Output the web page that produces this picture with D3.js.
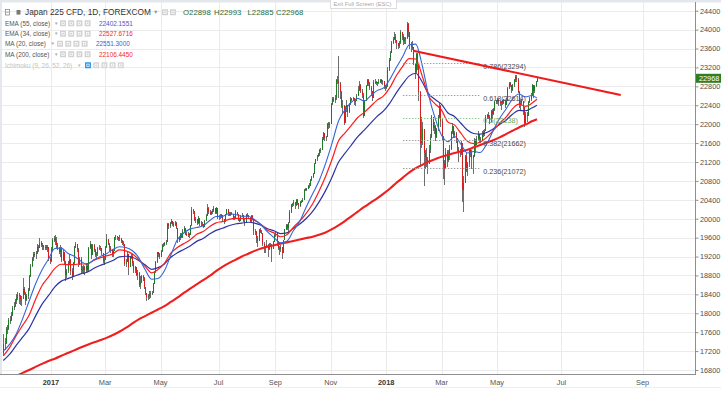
<!DOCTYPE html>
<html><head><meta charset="utf-8">
<script src="https://cdn.jsdelivr.net/npm/d3@7"></script>
<style>
body{margin:0;background:#fff;}
svg{display:block;font-family:"Liberation Sans",Arial,sans-serif;}
</style>
</head><body>
<svg id="chart" width="721" height="393"></svg>
<script>
// ---------------- DATA ----------------
const symbolTitle = "Japan 225 CFD, 1D, FOREXCOM";
const startDate = "2016-11-10";
const endDate = "2018-06-13";
const firstOpen = 17150;

const closes = [
17344,17374,
17672,17668,17862,17862,17967,
18106,18162,18250,18333,18381,
18356,18307,18308,18513,18426,
18274,18360,18496,18765,18996,
19155,19250,19253,19273,19401,
19391,19494,19444,19427,19400,
19396,19403,19401,19145,19114,
19350,19550,19594,19520,19454,
19380,19301,19364,19134,19287,
19095,18813,18894,19072,19137,
18891,18787,19057,19402,19467,
19368,19041,19148,18914,18918,
18976,18910,19007,18907,19378,
19459,19238,19437,19347,19234,
19251,19381,19379,19371,19283,
19107,19118,19393,19564,19469,
19379,19344,19254,19318,19604,
19633,19609,19577,19590,19521,
19480,19455,19041,19085,19262,
18985,19202,19217,19063,18909,
18983,18810,18861,18597,18665,
18797,18747,18552,18426,18335,
18355,18418,18432,18430,18620,
18875,19079,19289,19251,19196,
19310,19445,19450,19480,19500,
19895,19843,19900,19961,19883,
19869,19919,19814,19553,19590,
19678,19613,19742,19813,19686,
19682,19677,19650,19860,20177,
20170,19979,19984,19909,20013,
19908,19898,19883,19831,19943,
20067,20230,20138,20110,20132,
20153,20225,20130,20220,20033,
20055,20032,20081,19994,19929,
20080,20195,20098,20099,20118,
20100,20000,20020,20144,20099,
19975,19955,20050,20079,19959,
19925,20080,20080,20029,19952,
20055,19996,19738,19729,19600,
19537,19753,19729,19702,19470,
19393,19383,19434,19353,19452,
19449,19362,19506,19646,19691,
19508,19385,19357,19396,19274,
19545,19776,19865,19807,19909,
20150,20299,20310,20347,20296,
20397,20330,20267,20363,20356,
20400,20614,20626,20628,20690,
20700,20823,20881,20954,21155,
21255,21336,21363,21448,21457,
21696,21805,21707,21739,22008,
22011,22011,22420,22539,22520,
22548,22937,22913,22868,22681,
22380,22380,22028,22351,22396,
22261,22416,22523,22530,22550,
22495,22486,22597,22724,22819,
22707,22622,22177,22498,22811,
22938,22866,22758,22694,22553,
22901,22868,22891,22866,22902,
22939,22892,22911,22783,22764,
22800,23150,23350,23506,23714,
23800,23849,23788,23710,23653,
23714,23951,23868,23763,23808,
23816,24124,23940,23669,23631,
23629,23291,23098,23486,23274,
22682,21610,21645,21891,21382,
21300,21244,21154,21464,21720,
22149,21925,21970,21736,21892,
22153,22389,22068,21724,21181,
21042,21417,21252,21368,21469,
21824,21968,21777,21803,21676,
21480,21380,21400,21591,20617,
20766,21317,21031,21159,21454,
21388,21292,21319,21645,21567,
21678,21794,21687,21660,21778,
21835,21847,22158,22191,22162,
22088,22278,22215,22319,22467,
22480,22508,22472,22450,22470,
22467,22508,22408,22497,22758,
22865,22818,22717,22838,22930,
23002,22960,22689,22437,22450,
22481,22358,22018,22201,22171,
22475,22539,22625,22823,22694,
22804,22898,22968
];

const highs = [
17560,17480,
17720,17760,17900,17940,18020,
18150,18230,18300,18400,18450,
18420,18390,18370,18750,18560,
18450,18400,18530,18800,19050,
19190,19290,19300,19320,19460,
19450,19590,19530,19480,19450,
19440,19450,19440,19410,19200,
19400,19590,19640,19650,19620,
19480,19400,19450,19400,19330,
19300,19100,18930,19100,19250,
19150,18950,19080,19420,19500,
19470,19380,19180,19180,19000,
19030,19000,19060,19060,19400,
19520,19460,19470,19460,19360,
19300,19400,19450,19420,19380,
19280,19190,19420,19670,19580,
19480,19420,19360,19340,19620,
19660,19640,19620,19650,19600,
19540,19520,19460,19150,19300,
19260,19220,19280,19250,19100,
19000,18980,18920,18870,18780,
18820,18800,18760,18560,18430,
18400,18480,18470,18480,18650,
18900,19100,19300,19300,19280,
19330,19460,19490,19510,19540,
19910,19900,19940,20000,19960,
19930,19960,19920,19650,19640,
19700,19700,19780,19840,19800,
19720,19710,19700,19870,20240,
20210,20170,20030,20000,20050,
20000,19960,19920,19890,19970,
20100,20320,20250,20180,20170,
20200,20260,20230,20240,20220,
20080,20110,20100,20080,20000,
20100,20200,20180,20150,20140,
20150,20110,20060,20180,20150,
20100,20020,20080,20120,20070,
19990,20100,20120,20080,20040,
20080,20070,20000,19780,19740,
19640,19780,19800,19760,19560,
19500,19420,19560,19460,19480,
19480,19460,19530,19680,19730,
19600,19520,19420,19440,19400,
19560,19790,19880,19880,19930,
20180,20320,20340,20400,20360,
20420,20420,20330,20380,20400,
20430,20630,20660,20650,20720,
20750,20840,20900,20970,21170,
21270,21350,21380,21470,21500,
21730,21830,21810,21760,22030,
22040,22050,22440,22580,22570,
22620,22960,23020,23440,22900,
22700,22520,22400,22390,22520,
22400,22440,22580,22560,22580,
22560,22530,22640,22800,22920,
22860,22750,22660,22520,22830,
22960,22950,22900,22800,22700,
22930,22950,22920,22900,22950,
22960,22960,22940,22920,22830,
22820,23200,23400,23550,23760,
23840,23960,23900,23790,23720,
23750,24000,23960,23900,23840,
23850,24158,24130,23950,23740,
23750,23640,23300,23500,23500,
23000,22700,22150,22050,21900,
21450,21500,21300,21550,21800,
22200,22150,22050,21980,21920,
22200,22450,22400,22100,21750,
21250,21500,21450,21450,21550,
21860,22020,21950,21850,21840,
21700,21520,21480,21650,21550,
20900,21350,21400,21200,21480,
21500,21450,21350,21700,21680,
21750,21850,21800,21720,21850,
21880,21900,22200,22220,22250,
22200,22300,22330,22350,22500,
22520,22560,22540,22500,22500,
22520,22540,22520,22560,22790,
22900,22890,22820,22860,22960,
23050,23030,22980,22700,22520,
22530,22500,22350,22250,22250,
22500,22570,22660,22860,22830,
22830,22920,22993
];

const lows = [
17100,17230,
17360,17560,17640,17780,17840,
17940,18060,18140,18200,18290,
18200,18180,18160,18300,18380,
18180,18250,18300,18480,18760,
18980,19110,19180,19150,19260,
19300,19370,19400,19330,19340,
19340,19330,19300,19100,19050,
19090,19320,19500,19450,19380,
19330,19250,19200,19080,19100,
19050,18680,18740,18850,19020,
18820,18700,18780,19050,19380,
19300,18980,19020,18860,18850,
18840,18820,18880,18880,18900,
19360,19150,19230,19300,19200,
19150,19220,19340,19310,19230,
19060,19020,19150,19380,19440,
19310,19280,19200,19180,19330,
19560,19540,19520,19530,19480,
19440,19420,19000,18970,19080,
18820,18980,19150,19000,18850,
18850,18780,18700,18560,18520,
18650,18680,18520,18380,18270,
18290,18300,18330,18380,18420,
18620,18860,19070,19180,19150,
19190,19290,19400,19420,19440,
19600,19790,19800,19880,19850,
19820,19850,19780,19480,19500,
19560,19590,19600,19700,19650,
19640,19620,19600,19650,19850,
20090,19950,19900,19870,19890,
19850,19840,19840,19800,19820,
19950,20100,20100,20080,20080,
20100,20150,20090,20100,20000,
19980,19990,20020,19950,19880,
19950,20080,20050,20060,20050,
20080,19980,19970,20040,20070,
19960,19920,19950,20040,19920,
19850,19950,20040,20000,19940,
19940,19970,19650,19660,19480,
19400,19550,19700,19680,19430,
19280,19270,19380,19180,19330,
19400,19080,19380,19500,19620,
19420,19330,19230,19300,19150,
19300,19540,19760,19760,19700,
19900,20120,20250,20260,20210,
20260,20300,20200,20250,20330,
20350,20390,20580,20580,20620,
20650,20690,20800,20860,20950,
21150,21230,21300,21330,21380,
21540,21670,21650,21650,21740,
21900,21920,22040,22400,22470,
22440,22520,22850,22560,22540,
22340,22230,21980,22060,22250,
22150,22230,22400,22480,22500,
22400,22380,22480,22600,22700,
22650,22560,22120,22200,22500,
22800,22800,22720,22600,22500,
22650,22840,22820,22810,22840,
22880,22860,22820,22740,22700,
22740,22780,23120,23330,23500,
23700,23780,23720,23600,23580,
23620,23700,23780,23680,23700,
23700,23800,23850,23600,23520,
23560,23250,22960,23090,23150,
22500,21100,21500,21550,20700,
21050,21100,20950,21150,21400,
21700,21850,21800,21650,21700,
21850,22130,21950,21650,20850,
20720,21050,21100,21200,21250,
21460,21800,21700,21700,21600,
21420,21200,21300,21350,20350,
20150,20760,20980,20900,21100,
21300,21050,20950,21300,21400,
21550,21650,21600,21600,21650,
21720,21750,21850,22100,22100,
22000,22050,22100,22200,22280,
22420,22430,22380,22380,22300,
22400,22420,22350,22400,22500,
22750,22780,22650,22700,22780,
22900,22900,22650,22350,22300,
22400,22200,21940,22000,22050,
22200,22450,22500,22600,22560,
22650,22780,22885
];

// indicator values, one every 5 bars (plus the last bar)
const ema55 = [
17000,17134,17319,17496,17676,17940,18188,18371,18558,18680,
18733,18784,18833,18867,18946,19010,19063,19116,19194,19206,
19184,19117,19026,18930,18965,19043,19185,19279,19350,19423,
19521,19583,19675,19754,19798,19851,19888,19907,19925,19908,
19863,19787,19745,19685,19701,19797,19888,20005,20154,20356,
20594,20877,21195,21380,21559,21736,21873,22021,22165,22280,
22450,22668,22859,23021,23077,22891,22639,22522,22419,22235,
22164,22020,21875,21803,21789,21825,21899,21995,22084,22209,
22292,22284,22342,22402
];
const ema34 = [
17100,17280,17526,17744,17957,18291,18582,18763,18949,19037,
19028,19031,19043,19041,19118,19173,19213,19256,19340,19321,
19258,19137,18993,18855,18927,19057,19271,19393,19473,19554,
19671,19728,19832,19913,19940,19985,20007,20006,20008,19961,
19879,19758,19700,19619,19660,19818,19952,20115,20316,20585,
20892,21251,21643,21812,21976,22141,22249,22380,22509,22598,
22778,23028,23230,23385,23378,23016,22598,22429,22295,22044,
21984,21808,21639,21589,21622,21721,21862,22019,22149,22324,
22422,22377,22442,22528
];
const ma20 = [
17200,17347,17563,17884,18253,18618,18914,19142,19371,19378,
19270,19208,19104,19039,19125,19198,19261,19347,19407,19390,
19327,19177,18924,18720,18736,18899,19231,19555,19697,19785,
19814,19850,19957,20048,20050,20106,20090,20053,20052,19979,
19870,19720,19599,19489,19525,19744,19947,20249,20530,20803,
21165,21592,22063,22297,22463,22544,22488,22601,22709,22767,
22953,23202,23436,23680,23693,23240,22603,22127,21764,21631,
21739,21579,21390,21423,21400,21579,21861,22119,22322,22528,
22637,22579,22605,22551
];
const ma200 = [
16560,16610,16670,16740,16800,16865,16930,16990,17040,17100,
17160,17215,17275,17330,17380,17430,17480,17540,17610,17690,
17780,17870,17940,18010,18080,18150,18240,18330,18430,18520,
18610,18700,18790,18890,18980,19060,19130,19200,19260,19320,
19370,19410,19440,19470,19500,19530,19560,19590,19620,19660,
19710,19780,19860,19950,20050,20150,20250,20340,20430,20530,
20640,20760,20870,20980,21070,21140,21210,21260,21310,21350,
21390,21420,21460,21510,21560,21610,21660,21720,21790,21860,
21930,21990,22060,22106
];

const legendNames = ["EMA (55, close)", "EMA (34, close)", "MA (20, close)", "MA (200, close)"];
const legendValues = ["22402.1551", "22527.6716", "22551.3000", "22106.4450"];
const hiddenIndicator = "Ichimoku (9, 26, 52, 26)";

const priceTicks = [16800,17200,17600,18000,18400,18800,19200,19600,20000,20400,20800,21200,21600,22000,22400,22800,23200,23600,24000,24400];
const timeTickDates = ["2017-01-02","2017-03-01","2017-05-01","2017-07-03","2017-09-01","2017-11-01","2018-01-01","2018-03-01","2018-05-01","2018-07-02","2018-09-03"];
const timeTickLabels = ["2017","Mar","May","Jul","Sep","Nov","2018","Mar","May","Jul","Sep"];

const fibRatios = ["0.236","0.382","0.5","0.618","0.786"];
const fibPrices = [21072,21662,22138,22614,23294];
const fibDates = ["2018-01-18","2018-04-12"];

const trendDates = ["2018-01-30","2018-08-17"];
const trendPrices = [23554,22617];

// ---------------- BUILD ----------------
const svg = d3.select("#chart");
const parse = d3.utcParse("%Y-%m-%d");
const dates = [];
for (let d = parse(startDate); d <= parse(endDate); d = d3.utcDay.offset(d, 1)) {
  const wd = d.getUTCDay();
  if (wd !== 0 && wd !== 6) dates.push(d);
}
const bars = closes.map((c, i) => {
  const o = i ? closes[i - 1] : firstOpen;
  return {i, o, c, h: Math.max(highs[i], o, c), l: Math.min(lows[i], o, c)};
});
const lastIdx = bars.length - 1;
function slot(ds) {
  const d = parse(ds);
  if (d <= dates[lastIdx]) return d3.bisectLeft(dates, d);
  return lastIdx + d3.utcDay.count(dates[lastIdx], d);
}

const plotL = 2, plotR = 695, plotT = 0, plotB = 374;
const x = d3.scaleLinear().domain([-1, 536.6]).range([plotL, plotR]);
const y = d3.scaleLinear().domain([16800, 24400]).range([370, 10.7]);

svg.append("rect").attr("width", 721).attr("height", 393).attr("fill", "#fff");

svg.append("defs").append("clipPath").attr("id", "clip")
  .append("rect").attr("x", plotL).attr("y", plotT).attr("width", plotR - plotL).attr("height", plotB - plotT);

// grid
const grid = svg.append("g").attr("shape-rendering", "crispEdges");
grid.selectAll("line.h").data(priceTicks).join("line")
  .attr("x1", plotL).attr("x2", plotR)
  .attr("y1", d => Math.round(y(d)) + 0.5).attr("y2", d => Math.round(y(d)) + 0.5)
  .attr("stroke", "#ebebeb");
const tickSlots = timeTickDates.map(slot);
grid.selectAll("line.v").data(tickSlots).join("line")
  .attr("x1", d => Math.round(x(d)) + 0.5).attr("x2", d => Math.round(x(d)) + 0.5)
  .attr("y1", plotT).attr("y2", plotB)
  .attr("stroke", "#ebebeb");

const plot = svg.append("g").attr("clip-path", "url(#clip)");

// candles
const cg = plot.append("g").attr("shape-rendering", "crispEdges");
cg.selectAll("line.wick").data(bars).join("line")
  .attr("x1", d => Math.round(x(d.i)) + 0.5).attr("x2", d => Math.round(x(d.i)) + 0.5)
  .attr("y1", d => y(d.h)).attr("y2", d => y(d.l))
  .attr("stroke", "#6e6e6e").attr("stroke-width", 1);
cg.selectAll("rect.body").data(bars).join("rect")
  .attr("x", d => Math.round(x(d.i)))
  .attr("width", 1)
  .attr("y", d => y(Math.max(d.o, d.c)))
  .attr("height", d => Math.max(1, Math.abs(y(d.o) - y(d.c))))
  .attr("fill", d => d.c >= d.o ? "#1d7a25" : "#d21f1f");

// moving averages
const maIdx = d3.range(0, lastIdx, 5).concat([lastIdx]);
function maLine(vals, color, w) {
  const pts = vals.map((v, k) => [x(maIdx[k]), y(v)]);
  plot.append("path").attr("d", d3.line().curve(d3.curveMonotoneX)(pts))
    .attr("fill", "none").attr("stroke", color).attr("stroke-width", w)
    .attr("stroke-linejoin", "round");
}
maLine(ma200, "#f01e1e", 2.1);
maLine(ema55, "#2b33a3", 1.2);
maLine(ema34, "#ff1c1c", 1.2);
maLine(ma20, "#3366d6", 1.1);

// fibonacci retracement levels
const fx1 = x(slot(fibDates[0])), fx2 = x(slot(fibDates[1]));
fibPrices.forEach((p, k) => {
  const isMid = fibRatios[k] === "0.5";
  plot.append("line").attr("x1", fx1).attr("x2", fx2)
    .attr("y1", Math.round(y(p)) + 0.5).attr("y2", Math.round(y(p)) + 0.5)
    .attr("stroke", isMid ? "#8fc98f" : "#a0a0a0").attr("stroke-width", 1)
    .attr("stroke-dasharray", "1.5,1.5");
  plot.append("text").attr("x", fx2 + 3).attr("y", y(p) + 3).attr("dy", "0.35em")
    .attr("font-size", 7.2).attr("fill", isMid ? "#6aa55a" : "#4a4a4a")
    .text(`${fibRatios[k]}(${p})`);
});

// trend line
plot.append("line")
  .attr("x1", x(slot(trendDates[0]))).attr("y1", y(trendPrices[0]))
  .attr("x2", x(slot(trendDates[1]))).attr("y2", y(trendPrices[1]))
  .attr("stroke", "#f01a1a").attr("stroke-width", 2);

// frame strips
svg.append("rect").attr("x", 0).attr("y", 0).attr("width", 721).attr("height", 2.5).attr("fill", "#e4e7ec");
svg.append("rect").attr("x", 0).attr("y", 0).attr("width", 2).attr("height", plotB).attr("fill", "#e4e7ec");

// axes lines
svg.append("line").attr("x1", 0).attr("x2", plotR).attr("y1", plotB + 0.5).attr("y2", plotB + 0.5)
  .attr("stroke", "#8e8e8e").attr("shape-rendering", "crispEdges");
svg.append("line").attr("x1", plotR + 0.5).attr("x2", plotR + 0.5).attr("y1", 2).attr("y2", plotB + 1)
  .attr("stroke", "#8e8e8e").attr("shape-rendering", "crispEdges");
svg.append("line").attr("x1", 0).attr("x2", 721).attr("y1", 387.5).attr("y2", 387.5)
  .attr("stroke", "#eceef1").attr("shape-rendering", "crispEdges");

// y axis (right)
const yAxis = d3.axisRight(y).tickValues(priceTicks).tickSize(3).tickPadding(1.5).tickFormat(d3.format("d"));
const yg = svg.append("g").attr("transform", `translate(${plotR + 0.5},0)`).call(yAxis);
yg.select(".domain").remove();
yg.selectAll(".tick line").attr("stroke", "#8e8e8e");
yg.selectAll(".tick text").attr("font-size", 7.3).attr("fill", "#4d4d4d")
  .attr("font-family", "Liberation Sans, Arial, sans-serif");

// x axis labels
const xg = svg.append("g");
xg.selectAll("text").data(timeTickLabels).join("text")
  .attr("x", (d, k) => x(tickSlots[k]))
  .attr("y", 384.5)
  .attr("text-anchor", "middle")
  .attr("font-size", 7.4)
  .attr("font-weight", d => /^\d{4}$/.test(d) ? "bold" : "normal")
  .attr("fill", d => /^\d{4}$/.test(d) ? "#333" : "#555")
  .text(d => d);

// last price label
const last = bars[lastIdx];
const lpY = y(last.c);
svg.append("rect").attr("x", plotR + 1).attr("y", lpY - 4.6).attr("width", 721 - plotR - 1).attr("height", 9)
  .attr("fill", "#2f7d23");
svg.append("text").attr("x", plotR + 4).attr("y", lpY).attr("dy", "0.35em")
  .attr("font-size", 7.3).attr("fill", "#fff").text(d3.format("d")(last.c));

// exit full screen tooltip
svg.append("rect").attr("x", 330.5).attr("y", -1).attr("width", 66).attr("height", 9.5)
  .attr("fill", "#fff").attr("stroke", "#dcdcdc");
svg.append("text").attr("x", 333.5).attr("y", 6.3).attr("font-size", 5.8).attr("fill", "#aaa")
  .text("Exit Full Screen (ESC)");

// legend
const lg = svg.append("g");
function icon(xp, yc, fill) {
  lg.append("rect").attr("x", xp).attr("y", yc - 3).attr("width", 6).attr("height", 6)
    .attr("fill", fill).attr("rx", 0.5);
  lg.append("rect").attr("x", xp + 1.8).attr("y", yc - 1.2).attr("width", 2.4).attr("height", 2.4)
    .attr("fill", "none").attr("stroke", "#fff").attr("stroke-width", 0.7);
}
lg.append("rect").attr("x", 5.5).attr("y", 9.5).attr("width", 4).attr("height", 5.5)
  .attr("fill", "none").attr("stroke", "#8a8a8a").attr("stroke-width", 0.8);
lg.append("line").attr("x1", 6.3).attr("x2", 8.7).attr("y1", 12.3).attr("y2", 12.3).attr("stroke", "#8a8a8a").attr("stroke-width", 0.8);
lg.append("rect").attr("x", 16.5).attr("y", 10).attr("width", 4).attr("height", 4.6).attr("fill", "#7a7a7a");
lg.append("text").attr("x", 25).attr("y", 12.3).attr("dy", "0.35em").attr("font-size", 8.3).attr("fill", "#333")
  .text(symbolTitle);
lg.append("text").attr("x", 153).attr("y", 12.3).attr("dy", "0.35em").attr("font-size", 5.5).attr("fill", "#999").text("▼");
icon(162, 12.3, "#d2d2d2"); icon(170, 12.3, "#d2d2d2");
const ohlc = [["O", last.o, 183], ["H", last.h, 214], ["L", last.l, 247.5], ["C", last.c, 276]];
ohlc.forEach(([k, v, xp]) => {
  lg.append("text").attr("x", xp).attr("y", 12.3).attr("dy", "0.35em").attr("font-size", 7.8)
    .attr("fill", "#2a6b3c").text(k + v);
});
const rowY = [23.3, 33.7, 43.7, 54.3];
const valColors = ["#4a55c8", "#f0282d", "#3e5fc4", "#f0282d"];
const rowX = [[54, 60, 99], [54, 60, 99], [50.5, 57, 96], [54, 60, 99]];
legendNames.forEach((nm, k) => {
  const yc = rowY[k];
  lg.append("text").attr("x", 5).attr("y", yc).attr("dy", "0.35em").attr("font-size", 6.4).attr("fill", "#555").text(nm);
  lg.append("text").attr("x", rowX[k][0]).attr("y", yc).attr("dy", "0.35em").attr("font-size", 4.5).attr("fill", "#aaa").text("▼");
  for (let j = 0; j < 4; j++) icon(rowX[k][1] + j * 8.2, yc, "#d2d2d2");
  lg.append("text").attr("x", rowX[k][2]).attr("y", yc).attr("dy", "0.35em").attr("font-size", 6.4)
    .attr("fill", valColors[k]).text(legendValues[k]);
});
lg.append("text").attr("x", 5).attr("y", 65.3).attr("dy", "0.35em").attr("font-size", 6.4).attr("fill", "#c4c4c4").text(hiddenIndicator);
lg.append("text").attr("x", 77).attr("y", 65.3).attr("dy", "0.35em").attr("font-size", 4.5).attr("fill", "#bbb").text("▼");
icon(85, 65.3, "#2f9be8");
for (let j = 1; j < 5; j++) icon(85 + j * 8.2, 65.3, "#d6d6d6");
</script>
</body></html>
